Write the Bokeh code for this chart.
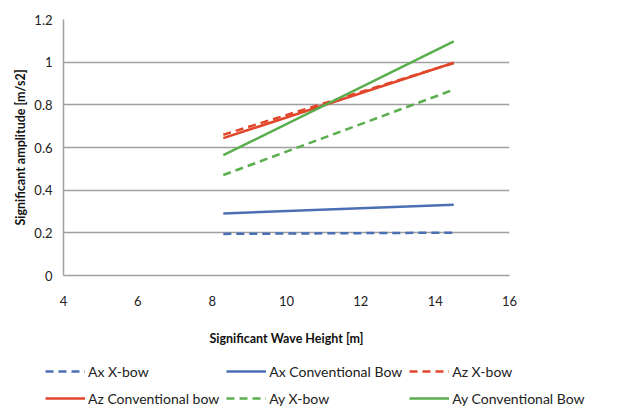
from bokeh.plotting import figure
from bokeh.layouts import column
from bokeh.models import Legend, LegendItem, Range1d, FixedTicker
from bokeh.embed import file_html
from bokeh.resources import INLINE

# Data
x_start_end = [8.3, 14.5]
ax_xbow = [0.195, 0.201]
ax_conv = [0.291, 0.332]
az_xbow = [0.660, 0.996]
az_conv = [0.644, 0.997]
ay_xbow_x = [8.3, 14.45]
ay_xbow = [0.471, 0.868]
ay_conv = [0.564, 1.097]

x_ticks = [4, 6, 8, 10, 12, 14, 16]
y_ticks = [0, 0.2, 0.4, 0.6, 0.8, 1.0, 1.2]

series = [
    ("Ax X-bow", "#4a6fb5", "8 5"),
    ("Ax Conventional Bow", "#4a6fb5", "solid"),
    ("Az X-bow", "#e2462a", "8 5"),
    ("Az Conventional bow", "#e2462a", "solid"),
    ("Ay X-bow", "#5aae4e", "8 5"),
    ("Ay Conventional Bow", "#5aae4e", "solid"),
]
series_x = [x_start_end, x_start_end, x_start_end, x_start_end, ay_xbow_x, x_start_end]
series_y = [ax_xbow, ax_conv, az_xbow, az_conv, ay_xbow, ay_conv]

FONT = "Lato"

p = figure(width=624, height=358, output_backend="svg", toolbar_location=None,
           x_range=Range1d(4, 16), y_range=Range1d(0, 1.2),
           min_border_left=63, min_border_right=115, min_border_top=19, min_border_bottom=83)
p.outline_line_color = None

p.xaxis.ticker = FixedTicker(ticks=x_ticks)
p.yaxis.ticker = FixedTicker(ticks=y_ticks)
p.yaxis.major_label_overrides = {0: "0", 1: "1", 0.2: "0.2", 0.4: "0.4", 0.6: "0.6", 0.8: "0.8", 1.2: "1.2"}
for ax in (p.xaxis, p.yaxis):
    ax.major_tick_line_color = None
    ax.minor_tick_line_color = None
    ax.major_tick_out = 0
    ax.major_tick_in = 0
    ax.minor_tick_out = 0
    ax.minor_tick_in = 0
    ax.axis_line_color = "#a0a0a0"
    ax.axis_line_width = 1.5
    ax.major_label_text_font = FONT
    ax.major_label_text_font_size = "13px"
    ax.major_label_text_color = "#222222"
    ax.axis_label_text_font = FONT
    ax.axis_label_text_font_size = "12.5px"
    ax.axis_label_text_font_style = "bold"
    ax.axis_label_text_color = "#111111"
p.xaxis.axis_label = "Significant Wave Height [m]"
p.yaxis.axis_label = "Significant amplitude [m/s2]"
p.xaxis.major_label_standoff = 20
p.xaxis.axis_label_standoff = 22
p.yaxis.major_label_standoff = 11
p.yaxis.axis_label_standoff = 3

p.xgrid.grid_line_color = None
p.ygrid.grid_line_color = "#a0a0a0"
p.ygrid.grid_line_width = 1.5

for (name, color, dash), xs, ys in zip(series, series_x, series_y):
    p.line(xs, ys, line_color=color, line_width=2.5, line_dash=dash)

# Legend panel below the chart
pl = figure(width=624, height=50, output_backend="svg", toolbar_location=None,
            x_range=Range1d(0, 1), y_range=Range1d(0, 1),
            x_axis_location=None, y_axis_location=None,
            min_border_left=0, min_border_right=0, min_border_top=0, min_border_bottom=0)
pl.frame_align = False
pl.grid.visible = False
pl.outline_line_color = None
items = []
for name, color, dash in series:
    # proxy renderers: data lies outside the visible range, only the legend glyph shows
    r = pl.line([-5, -4], [-5, -4], line_color=color, line_width=2.5, line_dash=dash)
    items.append(LegendItem(label=name, renderers=[r]))

legend = Legend(items=items, ncols=3, orientation="horizontal", location=(45, 0),
                border_line_color=None, background_fill_alpha=0,
                label_text_font=FONT, label_text_font_size="14px", label_text_color="#222222",
                glyph_width=40, glyph_height=20, label_standoff=3, spacing=7,
                padding=0, margin=0)
pl.add_layout(legend, "center")

layout = column(p, pl, spacing=0)
open("out.html", "w").write(file_html(layout, INLINE))
